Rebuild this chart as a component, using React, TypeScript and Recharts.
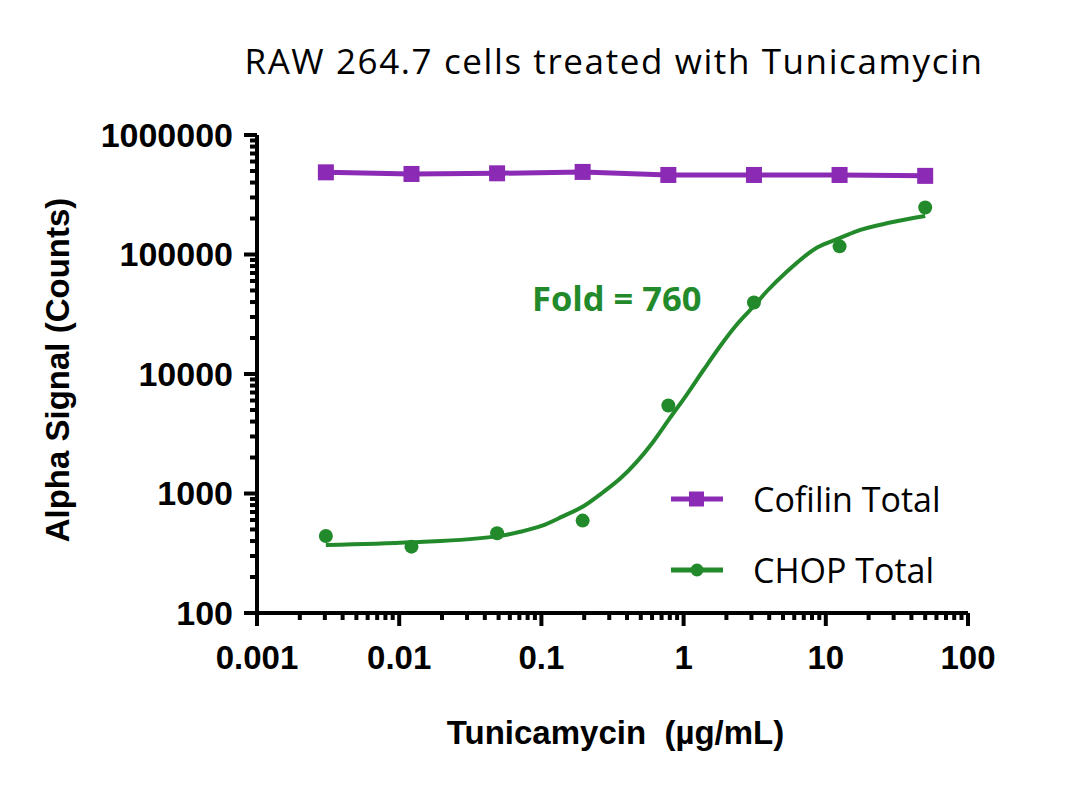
import React from "react";
import {
  ComposedChart,
  Line,
  Scatter,
  XAxis,
  YAxis,
  Legend,
} from "recharts";

const PURPLE = "#8B2AB4";
const GREEN = "#238A2C";

// tunicamycin doses, 4-fold dilution (µg/mL)
const doses = [0.00305, 0.0122, 0.0488, 0.195, 0.781, 3.125, 12.5, 50];
const cofilinTotal = [487000, 472000, 478000, 491000, 463000, 463000, 463000, 455000];
const chopTotal = [441, 359, 465, 593, 5450, 39700, 117000, 247000];

// fitted CHOP curve
const fitDoses = [
  0.00305, 0.0123, 0.05, 0.071, 0.1, 0.14, 0.2, 0.27, 0.36, 0.47, 0.61, 0.8,
  1.05, 1.38, 1.8, 2.36, 3.1, 3.94, 5.2, 8.75, 12.5, 16, 29, 50,
];
const fitSignal = [
  370, 390, 440, 478, 535, 640, 790, 1020, 1340, 1850, 2700, 4270,
  6700, 10800, 17000, 25800, 36700, 50700, 70000, 115000, 137000, 155000, 186000, 210000,
];

const xMajor = [0.001, 0.01, 0.1, 1, 10, 100];
const xLabels = ["0.001", "0.01", "0.1", "1", "10", "100"];
const yMajor = [100, 1000, 10000, 100000, 1000000];
const yLabels = ["100", "1000", "10000", "100000", "1000000"];

const minorOf = (majors: number[]) => {
  const out: number[] = [];
  majors.slice(0, -1).forEach((m) => {
    for (let k = 2; k <= 9; k++) out.push(+(m * k).toPrecision(3));
  });
  return out;
};

const xTicks = [...xMajor, ...minorOf(xMajor)].sort((a, b) => a - b);
const yTicks = [...yMajor, ...minorOf(yMajor)].sort((a, b) => a - b);

const cofilinData = doses.map((d, i) => ({ dose: d, signal: cofilinTotal[i] }));
const chopData = doses.map((d, i) => ({ dose: d, signal: chopTotal[i] }));
const fitData = fitDoses.map((d, i) => ({ dose: d, signal: fitSignal[i] }));

const tickFont = {
  fontFamily: "'Liberation Sans', Arial, sans-serif",
  fontWeight: 700,
  fontSize: 33,
};

const XTick = (props: any) => {
  const { x, y, payload } = props;
  const idx = xMajor.indexOf(payload.value);
  const major = idx >= 0;
  return (
    <g>
      <line x1={x} x2={x} y1={y} y2={y + (major ? 13 : 7)} stroke="#000" strokeWidth={4} />
      {major && (
        <text x={x} y={y + 56} textAnchor="middle" fill="#000" style={tickFont}>
          {xLabels[idx]}
        </text>
      )}
    </g>
  );
};

const YTick = (props: any) => {
  const { x, y, payload } = props;
  const idx = yMajor.indexOf(payload.value);
  const major = idx >= 0;
  return (
    <g>
      <line x1={x} x2={x - (major ? 13 : 7)} y1={y} y2={y} stroke="#000" strokeWidth={4} />
      {major && (
        <text x={x - 24} y={y} dy="0.35em" textAnchor="end" fill="#000" style={{ ...tickFont, fontSize: 34 }}>
          {yLabels[idx]}
        </text>
      )}
    </g>
  );
};

const SquareDot = (props: any) => {
  const { cx, cy } = props;
  if (cx == null || cy == null) return null;
  return <rect x={cx - 8} y={cy - 8} width={16} height={16} fill={PURPLE} />;
};

const CircleDot = (props: any) => {
  const { cx, cy } = props;
  return <circle cx={cx} cy={cy} r={7} fill={GREEN} />;
};

const legendItems = [
  { name: "Cofilin Total", color: PURPLE, marker: "square" },
  { name: "CHOP Total", color: GREEN, marker: "circle" },
];

const LegendContent = () => (
  <div style={{ fontFamily: "'Open Sans', sans-serif", fontSize: 34, color: "#000" }}>
    {legendItems.map((it) => (
      <div key={it.name} style={{ display: "flex", alignItems: "center", height: 71 }}>
        <svg width={52} height={20} style={{ marginRight: 30 }}>
          <line x1={0} x2={52} y1={10} y2={10} stroke={it.color} strokeWidth={5} />
          {it.marker === "square" ? (
            <rect x={18} y={2.5} width={15} height={15} fill={it.color} />
          ) : (
            <circle cx={26} cy={10} r={6.5} fill={it.color} />
          )}
        </svg>
        <span>{it.name}</span>
      </div>
    ))}
  </div>
);

export default function App() {
  return (
    <div style={{ position: "absolute", left: 0, top: 0, width: 1080, height: 791, background: "#fff" }}>
      <div
        style={{
          position: "absolute",
          left: 0,
          width: 1228,
          top: 37,
          textAlign: "center",
          fontFamily: "'Open Sans', sans-serif",
          fontSize: 35,
          letterSpacing: 1.6,
          color: "#000",
        }}
      >
        RAW 264.7 cells treated with Tunicamycin
      </div>
      <div
        style={{
          position: "absolute",
          left: 532,
          top: 274,
          fontFamily: "'Open Sans', sans-serif",
          fontWeight: 700,
          fontSize: 34.5,
          color: GREEN,
        }}
      >
        Fold = 760
      </div>
      <ComposedChart
        width={1080}
        height={791}
        margin={{ top: 135, right: 112, bottom: 138, left: 177 }}
      >
        <XAxis
          dataKey="dose"
          type="number"
          scale="log"
          domain={[0.001, 100]}
          allowDataOverflow
          ticks={xTicks}
          interval={0}
          tick={<XTick />}
          tickLine={false}
          tickSize={0}
          tickMargin={0}
          height={40}
          axisLine={{ stroke: "#000", strokeWidth: 4 }}
        />
        <YAxis
          dataKey="signal"
          type="number"
          scale="log"
          domain={[100, 1000000]}
          allowDataOverflow
          ticks={yTicks}
          interval={0}
          tick={<YTick />}
          tickLine={false}
          tickSize={0}
          tickMargin={0}
          width={80}
          axisLine={{ stroke: "#000", strokeWidth: 4 }}
          label={{
            content: () => (
              <text
                x={69}
                y={370}
                transform="rotate(-90 69 370)"
                textAnchor="middle"
                fill="#000"
                style={tickFont}
              >
                Alpha Signal (Counts)
              </text>
            ),
          }}
        />
        <Legend
          layout="vertical"
          align="center"
          verticalAlign="middle"
          content={<LegendContent />}
          wrapperStyle={{ left: 671, top: 463, width: 340 }}
        />
        <Line
          data={cofilinData}
          dataKey="signal"
          type="linear"
          stroke={PURPLE}
          strokeWidth={5}
          dot={<SquareDot />}
          activeDot={false}
          isAnimationActive={false}
        />
        <Line
          data={fitData}
          dataKey="signal"
          type="monotone"
          stroke={GREEN}
          strokeWidth={4}
          dot={false}
          activeDot={false}
          isAnimationActive={false}
          legendType="none"
        />
        <Scatter
          data={chopData}
          dataKey="signal"
          fill={GREEN}
          shape={<CircleDot />}
          isAnimationActive={false}
        />
      </ComposedChart>
      <svg
        width={1080}
        height={791}
        style={{ position: "absolute", left: 0, top: 0, pointerEvents: "none" }}
      >
        <text x={615.5} y={744} textAnchor="middle" fill="#000" style={{ ...tickFont, whiteSpace: "pre" }}>
          {"Tunicamycin  (µg/mL)"}
        </text>
      </svg>
    </div>
  );
}
